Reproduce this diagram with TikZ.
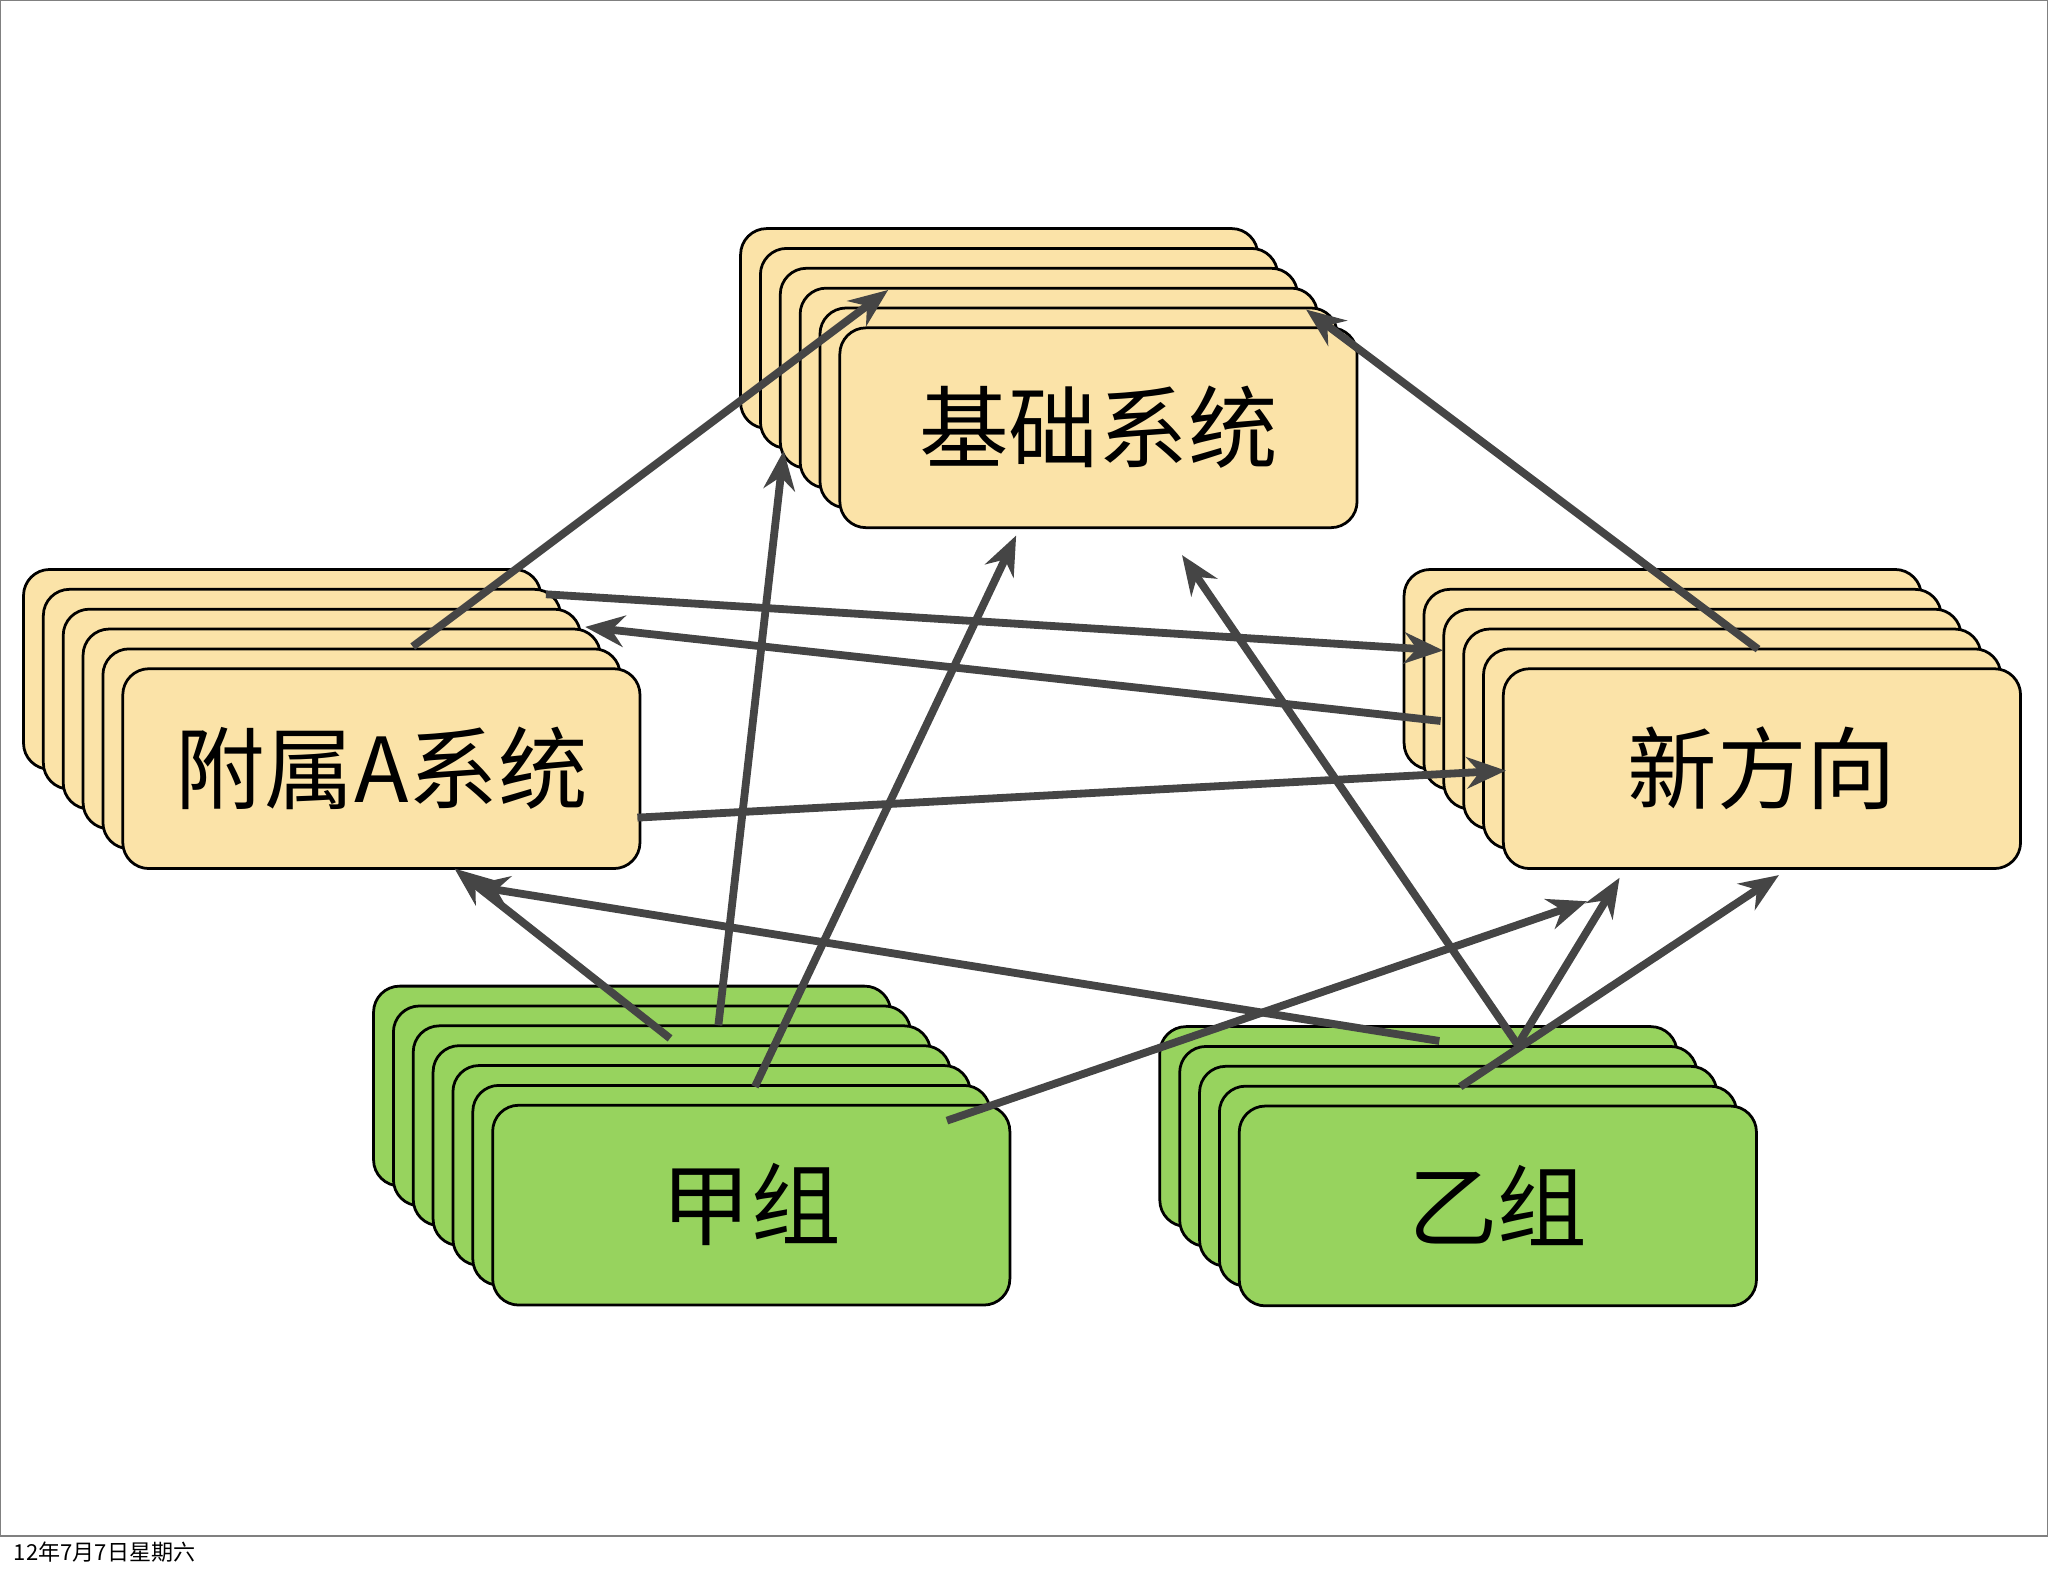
\documentclass[tikz,border=0pt]{standalone}
\usepackage{fontspec}
\newfontfamily\cjk{Noto Sans CJK SC}
\usetikzlibrary{arrows.meta}
\definecolor{ybox}{HTML}{FBE3A8}
\definecolor{gbox}{HTML}{97D35E}
\definecolor{arr}{HTML}{454545}
\begin{document}
\begin{tikzpicture}[x=0.01cm,y=-0.01cm,
  card/.style={draw=black,line width=0.6pt,rounded corners=0.2cm},
  lbl/.style={font=\cjk\fontsize{19.5}{19.5}\selectfont},
  conn/.style={draw=arr,line width=1.7pt,-{Stealth[length=0.3cm,width=0.24cm]}}]
\useasboundingbox (0,0) rectangle (1568,1206);
\draw[gray,line width=0.3pt] (0,0) rectangle (1568,1176);
\newcommand{\stack}[6]{% x0 y0 n col name text
  \foreach \i in {0,...,#3}{
    \path[card,fill=#4] ({#1+15.2*\i},{#2+15.2*\i}) rectangle ++(396,153);}
  \node[lbl] (#5) at ({#1+15.2*#3+198},{#2+15.2*#3+76}) {#6};}
\stack{567}{175}{5}{ybox}{base}{基础系统}
\stack{18}{436}{5}{ybox}{sub}{附属A系统}
\stack{1075}{436}{5}{ybox}{newd}{新方向}
\stack{286}{755}{6}{gbox}{jia}{甲组}
\stack{888}{786}{4}{gbox}{yi}{乙组}
\foreach \n/\x/\y in {a1/316/495,b1/680/222,a2/550/785,b2/600/345,a3/578/832,b3/778/410,
  a4/1162/800,b4/905/425,a5/1346/497,b5/1000/237,a6/418/455,b6/1105/498,a7/1103/552,b7/448/480,
  a8/488/626,b8/1153/590,a9/513/795,b9/348/665,a10/1102/797,b10/360/678,a11/725/858,b11/1215/690,
  a12/1162/800,b12/1240/672,a13/1118/832,b13/1362/670}
  {\coordinate (\n) at (\x,\y);}
\foreach \k in {1,...,13}{\draw[conn] (a\k) -- (b\k);}
\node[anchor=west,font=\cjk\fontsize{4.8}{4.8}\selectfont,inner sep=0] (foot) at (10,1188) {12年7月7日星期六};
\end{tikzpicture}
\end{document}
